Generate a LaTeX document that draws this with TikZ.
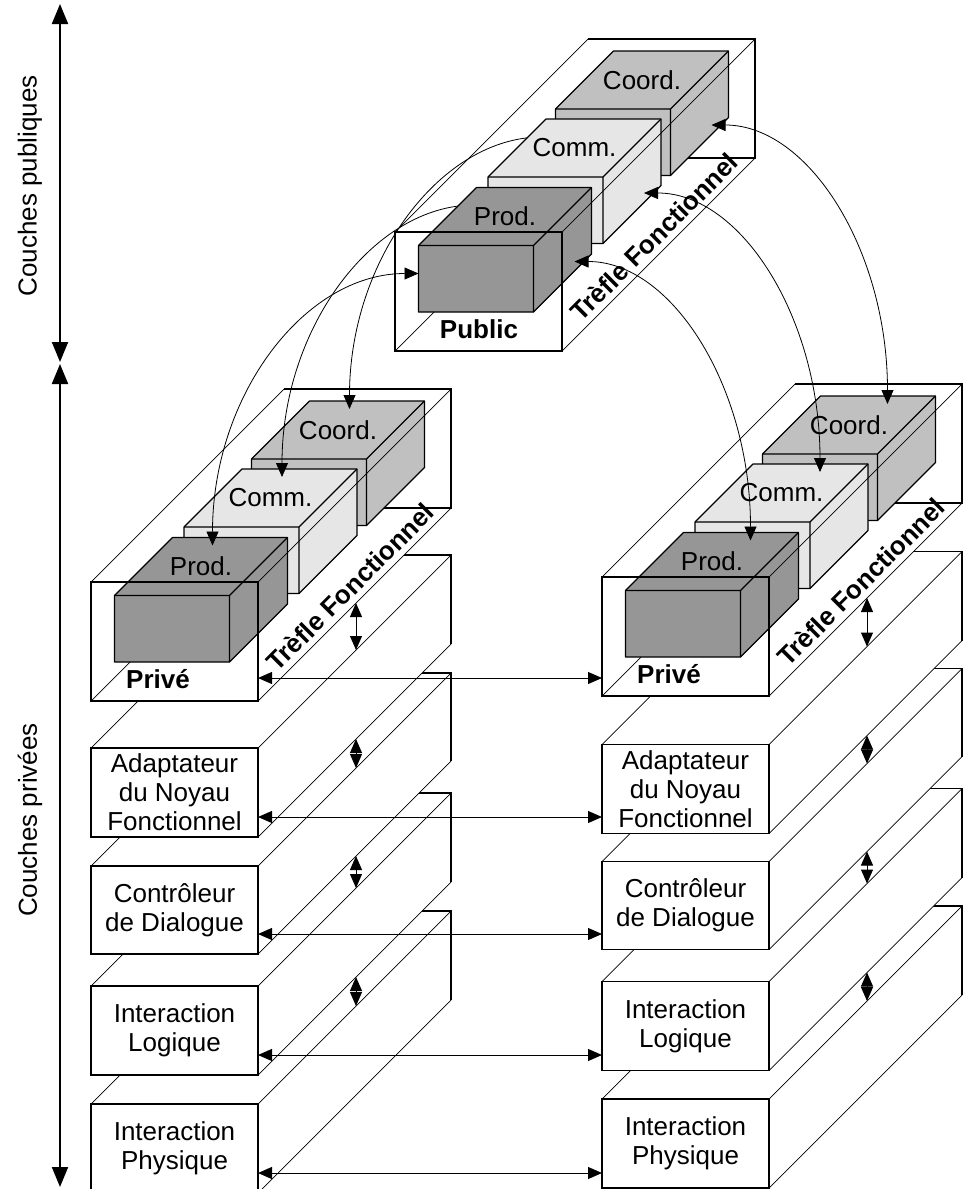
\documentclass[tikz,border=0pt]{standalone}
\usepackage{fontspec}
\setmainfont{Liberation Sans}
\usepackage{tikz}
\usetikzlibrary{calc}
\usetikzlibrary{arrows.meta}
\definecolor{prodgris}{HTML}{969696}
\definecolor{commgris}{HTML}{E6E6E6}
\definecolor{coordgris}{HTML}{C0C0C0}
\tikzset{
  myedge/.style={
    draw=black,
    line width=0.8pt,
  },
  mythin/.style={
    draw=black,
    line width=0.35pt,
  },
  myblock/.style={
    draw=black,
    line width=0.6pt,
    line join=round,
  },
  mytext/.style={
    font=\fontsize{13}{14.5}\selectfont,
    align=center,
    inner sep=0pt,
  },
  mybold/.style={
    font=\fontsize{13}{14.5}\selectfont\bfseries,
    inner sep=0pt,
  },
  mylink/.style={
    draw=black,
    line width=0.4pt,
    <->,
    >={Triangle[length=7pt,width=6pt]},
  },
  myarrow/.style={
    draw=black,
    line width=0.5pt,
    <->,
    >={Triangle[length=7pt,width=6pt]},
  },
  myaxis/.style={
    draw=black,
    line width=1pt,
    <->,
    >={Triangle[length=10pt,width=8pt]},
  }
}
% points d'accroche d'un bloc
\newcommand{\points}[3]{%
  \coordinate (#1-l) at (#2,#3+28);
  \coordinate (#1-r) at (#2+156,#3+16);
  \coordinate (#1-tl) at (#2+98,#3-50);
  \coordinate (#1-tr) at (#2+125,#3-50);
}
% bloc colore : nom, x, y, couleur, texte
\newcommand{\bloc}[5]{%
  \filldraw[myblock, fill=#4] (#2,#3) -- ++(58,-58) -- ++(115,0) -- ++(0,66.5)
    -- ++(-58,58) -- ++(-115,0) -- cycle;
  \draw[myblock] (#2,#3) -- ++(115,0) -- ++(0,66.5) ++(0,-66.5) -- ++(58,-58);
  \node[mytext] (#1) at (#2+86.5,#3-29) {#5};
}
% fond du trefle : nom, x, y
\newcommand{\fond}[3]{%
  \fill[white] (#2,#3+119) -- (#2,#3) -- (#2+193,#3-193) -- (#2+360,#3-193)
    -- (#2+360,#3-74) -- (#2+167,#3+119) -- cycle;
  \draw[mythin] (#2,#3) -- (#2+193,#3-193);
  \draw[mythin] (#2,#3+119) -- (#2+193,#3-74);
  \draw[myedge] (#2+193,#3-74) -- (#2+360,#3-74) -- (#2+360,#3-193) -- (#2+193,#3-193);
  \points{#1-coord}{#2+160.5}{#3-123}
  \points{#1-comm}{#2+93}{#3-55}
  \points{#1-prod}{#2+23.5}{#3+13.5}
}
% les trois blocs : nom, x, y
\newcommand{\trio}[3]{%
  \bloc{#1-coord}{#2+160.5}{#3-123}{coordgris}{Coord.}
  \bloc{#1-comm}{#2+93}{#3-55}{commgris}{Comm.}
  \bloc{#1-prod}{#2+23.5}{#3+13.5}{prodgris}{Prod.}
}
% devant du trefle : nom, x, y, texte, decalage
\newcommand{\devant}[5]{%
  \draw[myedge] (#2,#3) rectangle (#2+167,#3+119);
  \draw[mythin] (#2+167,#3) -- (#2+360,#3-193);
  \draw[mythin] (#2+167,#3+119) -- (#2+360,#3-74);
  \node[mybold] (#1) at (#2+#5,#3+97) {#4};
  \node[mybold, rotate=45] (#1-tf) at (#2+259,#3+5) {Trèfle Fonctionnel};
  \coordinate (#1-e) at (#2+167,#3+96);
  \coordinate (#1-w) at (#2,#3+96);
  \coordinate (#1-b) at (#2+265,#3+21);
}
% couche : nom, x, y, hauteur, texte
\newcommand{\couche}[5]{%
  \fill[white] (#2,#3+#4) -- (#2,#3) -- (#2+193,#3-193) -- (#2+360,#3-193)
    -- (#2+360,#3-193+#4) -- (#2+167,#3+#4) -- cycle;
  \draw[mythin] (#2,#3) -- (#2+193,#3-193);
  \draw[mythin] (#2+167,#3) -- (#2+360,#3-193);
  \draw[mythin] (#2+167,#3+#4) -- (#2+360,#3-193+#4);
  \draw[myedge] (#2+193,#3-193) -- (#2+360,#3-193) -- (#2+360,#3-193+#4);
  \draw[myedge] (#2,#3) rectangle (#2+167,#3+#4);
  \node[mytext] (#1) at (#2+83.5,#3+#4/2) {#5};
  \coordinate (#1-e) at (#2+167,#3+#4-20);
  \coordinate (#1-w) at (#2,#3+#4-20);
  \coordinate (#1-h) at (#2+265,#3-98);
  \coordinate (#1-b) at (#2+265,#3+#4-98);
}

\begin{document}
\begin{tikzpicture}[x=0.5pt, y=-0.5pt]
    \useasboundingbox (0,0) rectangle (963,1189);
    \clip (0,0) rectangle (963,1189);

    % Axe des couches
    \coordinate (axeH) at (60,4);
    \coordinate (axeM1) at (60,362);
    \coordinate (axeM2) at (60,364);
    \coordinate (axeB) at (60,1187);
    \draw [myaxis] (axeH) -- (axeM1);
    \draw [myaxis] (axeM2) -- (axeB);
    \node [mytext, rotate=90] (pubTxt) at (30,186) {Couches publiques};
    \node [mytext, rotate=90] (privTxt) at (30,820) {Couches privées};

    % Pile de gauche
    \couche{gp}{91}{1104}{89}{Interaction\\Physique}
    \couche{gl}{91}{986}{89}{Interaction\\Logique}
    \couche{gc}{91}{866}{88}{Contrôleur\\de Dialogue}
    \couche{ga}{91}{748}{89}{Adaptateur\\du Noyau\\Fonctionnel}
    \fond{g}{91}{582}
    \trio{g}{91}{582}
    \devant{g}{91}{582}{Privé}{67}

    % Pile de droite
    \couche{dp}{602}{1099}{89}{Interaction\\Physique}
    \couche{dl}{602}{981.5}{89}{Interaction\\Logique}
    \couche{dc}{602}{861.5}{88}{Contrôleur\\de Dialogue}
    \couche{da}{602}{744.5}{89}{Adaptateur\\du Noyau\\Fonctionnel}
    \fond{d}{602}{577}
    \trio{d}{602}{577}
    \devant{d}{602}{577}{Privé}{67}

    % Echanges entre les deux piles
    \draw [myarrow] (g-e) -- (d-w |- g-e);
    \draw [myarrow] (ga-e) -- (da-w |- ga-e);
    \draw [myarrow] (gc-e) -- (dc-w |- gc-e);
    \draw [myarrow] (gl-e) -- (dl-w |- gl-e);
    \draw [myarrow] (gp-e) -- (dp-w |- gp-e);

    % Echanges entre couches voisines
    \draw [myarrow] (g-b) -- (ga-h);
    \draw [myarrow] (ga-b) -- (gc-h);
    \draw [myarrow] (gc-b) -- (gl-h);
    \draw [myarrow] (gl-b) -- (gp-h);
    \draw [myarrow] (d-b) -- (da-h);
    \draw [myarrow] (da-b) -- (dc-h);
    \draw [myarrow] (dc-b) -- (dl-h);
    \draw [myarrow] (dl-b) -- (dp-h);

    % Trefle public
    \fond{pub}{395}{232}
    \draw [mylink] (pub-prod-l) .. controls +(-114,0) and +(0,-150) .. (g-prod-tl);
    \draw [mylink] (pub-comm-l) .. controls +(-114,0) and +(0,-150) .. (g-comm-tl);
    \draw [mylink] (pub-coord-l) .. controls +(-114,0) and +(0,-150) .. (g-coord-tl);
    \trio{pub}{395}{232}
    \devant{pub}{395}{232}{Public}{84}
    \draw [mylink] (pub-prod-r) .. controls +(97,0) and +(0,-154) .. (d-prod-tr);
    \draw [mylink] (pub-comm-r) .. controls +(97,0) and +(0,-154) .. (d-comm-tr);
    \draw [mylink] (pub-coord-r) .. controls +(97,0) and +(0,-154) .. (d-coord-tr);
\end{tikzpicture}
\end{document}
